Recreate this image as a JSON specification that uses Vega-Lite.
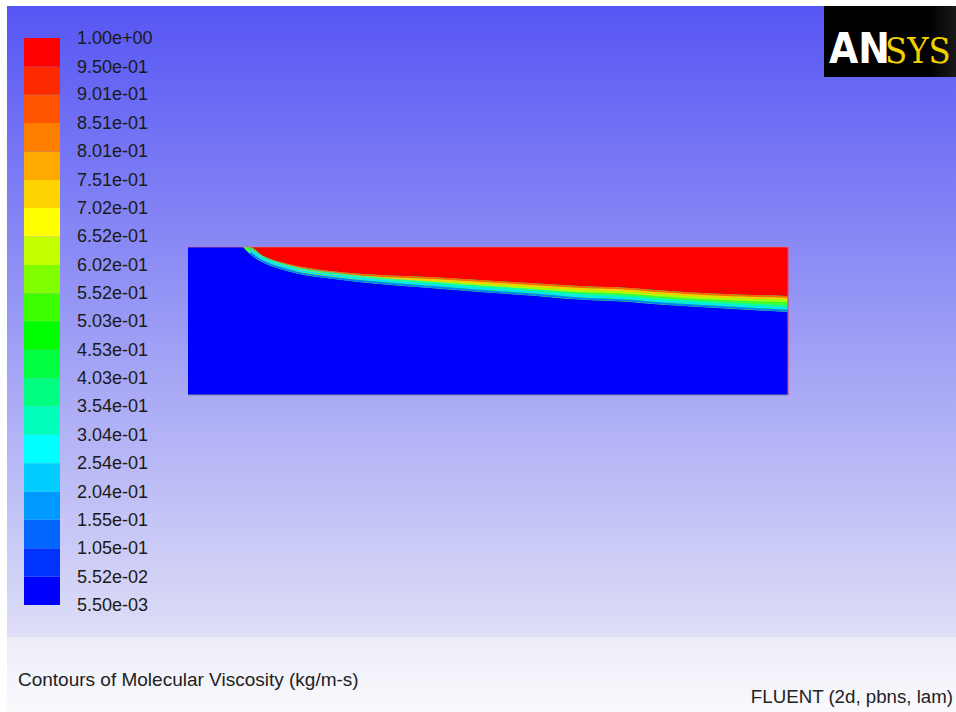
{
  "$schema": "https://vega.github.io/schema/vega-lite/v6.json",
  "width": 956,
  "height": 712,
  "autosize": {"type": "fit", "contains": "padding"},
  "padding": 0,
  "background": "#ffffff",
  "config": {"view": {"stroke": null}, "axis": {"disable": true}, "legend": {"disable": true}},
  "resolve": {"scale": {"x": "independent", "y": "independent", "color": "independent"}},
  "layer": [
    {
      "data": {"values": [{}]},
      "layer": [
        {
          "mark": {"type": "rect", "color": {"gradient": "linear", "x1": 0, "y1": 0, "x2": 0, "y2": 1, "stops": [{"offset": 0, "color": "#5656f4"}, {"offset": 1, "color": "#dedef7"}]}},
          "encoding": {
            "x": {"datum": 0.0073, "type": "quantitative", "scale": {"domain": [0, 1], "range": [0, 956]}},
            "x2": {"datum": 1},
            "y": {"datum": 0.0084, "type": "quantitative", "scale": {"domain": [0, 1], "range": [0, 712]}},
            "y2": {"datum": 0.8947}
          }
        },
        {
          "mark": {"type": "rect", "color": {"gradient": "linear", "x1": 0, "y1": 0, "x2": 0, "y2": 1, "stops": [{"offset": 0, "color": "#ececf8"}, {"offset": 1, "color": "#f9f9fd"}]}},
          "encoding": {
            "x": {"datum": 0.0073, "type": "quantitative", "scale": {"domain": [0, 1], "range": [0, 956]}},
            "x2": {"datum": 1},
            "y": {"datum": 0.8947, "type": "quantitative", "scale": {"domain": [0, 1], "range": [0, 712]}},
            "y2": {"datum": 1}
          }
        },
        {
          "mark": {"type": "rect", "color": {"gradient": "linear", "x1": 0, "y1": 0, "x2": 1, "y2": 0, "stops": [{"offset": 0, "color": "#000000"}, {"offset": 0.8, "color": "#000000"}, {"offset": 1, "color": "#1a1a1a"}]}},
          "encoding": {
            "x": {"datum": 0.8619, "type": "quantitative", "scale": {"domain": [0, 1], "range": [0, 956]}},
            "x2": {"datum": 1},
            "y": {"datum": 0.0084, "type": "quantitative", "scale": {"domain": [0, 1], "range": [0, 712]}},
            "y2": {"datum": 0.1082}
          }
        },
        {
          "data": {"values": [{"t": "AN"}]},
          "mark": {"type": "text", "align": "left", "baseline": "alphabetic", "font": "DejaVu Sans Condensed, Liberation Sans Narrow, sans-serif", "fontWeight": "bold", "fontSize": 42, "color": "#ffffff"},
          "encoding": {
            "x": {"datum": 0.8672, "type": "quantitative", "scale": {"domain": [0, 1], "range": [0, 956]}},
            "y": {"datum": 0.0885, "type": "quantitative", "scale": {"domain": [0, 1], "range": [0, 712]}},
            "text": {"field": "t"}
          }
        },
        {
          "data": {"values": [{"t": "SYS"}]},
          "mark": {"type": "text", "align": "left", "baseline": "alphabetic", "font": "DejaVu Serif Condensed, Liberation Serif, serif", "fontSize": 36, "color": "#f0d000"},
          "encoding": {
            "x": {"datum": 0.9257, "type": "quantitative", "scale": {"domain": [0, 1], "range": [0, 956]}},
            "y": {"datum": 0.0885, "type": "quantitative", "scale": {"domain": [0, 1], "range": [0, 712]}},
            "text": {"field": "t"}
          }
        },
        {
          "data": {"values": [{"t": "Contours of Molecular Viscosity (kg/m-s)"}]},
          "mark": {"type": "text", "align": "left", "baseline": "middle", "font": "Liberation Sans", "fontSize": 19, "color": "#222222"},
          "encoding": {
            "x": {"datum": 0.0188, "type": "quantitative", "scale": {"domain": [0, 1], "range": [0, 956]}},
            "y": {"datum": 0.955, "type": "quantitative", "scale": {"domain": [0, 1], "range": [0, 712]}},
            "text": {"field": "t"}
          }
        },
        {
          "data": {"values": [{"t": "FLUENT (2d, pbns, lam)"}]},
          "mark": {"type": "text", "align": "right", "baseline": "middle", "font": "Liberation Sans", "fontSize": 18.7, "color": "#222222"},
          "encoding": {
            "x": {"datum": 0.9969, "type": "quantitative", "scale": {"domain": [0, 1], "range": [0, 956]}},
            "y": {"datum": 0.979, "type": "quantitative", "scale": {"domain": [0, 1], "range": [0, 712]}},
            "text": {"field": "t"}
          }
        }
      ]
    },
    {
      "layer": [
        {
          "data": {"values": [
            {"lo": 0.0055, "hi": 0.0552}, {"lo": 0.0552, "hi": 0.105}, {"lo": 0.105, "hi": 0.155}, {"lo": 0.155, "hi": 0.204},
            {"lo": 0.204, "hi": 0.254}, {"lo": 0.254, "hi": 0.304}, {"lo": 0.304, "hi": 0.354}, {"lo": 0.354, "hi": 0.403},
            {"lo": 0.403, "hi": 0.453}, {"lo": 0.453, "hi": 0.503}, {"lo": 0.503, "hi": 0.552}, {"lo": 0.552, "hi": 0.602},
            {"lo": 0.602, "hi": 0.652}, {"lo": 0.652, "hi": 0.702}, {"lo": 0.702, "hi": 0.751}, {"lo": 0.751, "hi": 0.801},
            {"lo": 0.801, "hi": 0.851}, {"lo": 0.851, "hi": 0.901}, {"lo": 0.901, "hi": 0.95}, {"lo": 0.95, "hi": 1.0}
          ]},
          "mark": {"type": "rect"},
          "encoding": {
            "x": {"datum": 0, "type": "quantitative", "scale": {"domain": [0, 1], "range": [24, 60]}},
            "x2": {"datum": 1},
            "y": {"field": "lo", "type": "quantitative", "scale": {"domain": [0.0055, 1.0], "range": [605, 38]}},
            "y2": {"field": "hi"},
            "color": {"field": "lo", "type": "ordinal", "legend": null, "scale": {
              "domain": [0.0055, 0.0552, 0.105, 0.155, 0.204, 0.254, 0.304, 0.354, 0.403, 0.453, 0.503, 0.552, 0.602, 0.652, 0.702, 0.751, 0.801, 0.851, 0.901, 0.95],
              "range": ["#0000ff", "#0033ff", "#0066ff", "#0099ff", "#00ccff", "#00ffff", "#00ffbb", "#00ff80", "#00ff40", "#00ff00", "#3cff00", "#80ff00", "#c4ff00", "#ffff00", "#ffd400", "#ffaa00", "#ff7f00", "#ff5500", "#ff2a00", "#ff0000"]
            }}
          }
        },
        {
          "data": {"values": [
            {"v": 1.0, "label": "1.00e+00"}, {"v": 0.95, "label": "9.50e-01"}, {"v": 0.901, "label": "9.01e-01"},
            {"v": 0.851, "label": "8.51e-01"}, {"v": 0.801, "label": "8.01e-01"}, {"v": 0.751, "label": "7.51e-01"},
            {"v": 0.702, "label": "7.02e-01"}, {"v": 0.652, "label": "6.52e-01"}, {"v": 0.602, "label": "6.02e-01"},
            {"v": 0.552, "label": "5.52e-01"}, {"v": 0.503, "label": "5.03e-01"}, {"v": 0.453, "label": "4.53e-01"},
            {"v": 0.403, "label": "4.03e-01"}, {"v": 0.354, "label": "3.54e-01"}, {"v": 0.304, "label": "3.04e-01"},
            {"v": 0.254, "label": "2.54e-01"}, {"v": 0.204, "label": "2.04e-01"}, {"v": 0.155, "label": "1.55e-01"},
            {"v": 0.105, "label": "1.05e-01"}, {"v": 0.0552, "label": "5.52e-02"}, {"v": 0.0055, "label": "5.50e-03"}
          ]},
          "mark": {"type": "text", "align": "left", "baseline": "middle", "dx": 17, "dy": 1, "font": "Liberation Sans", "fontSize": 18, "color": "#1a1a1a"},
          "encoding": {
            "x": {"datum": 1, "type": "quantitative", "scale": {"domain": [0, 1], "range": [24, 60]}},
            "y": {"field": "v", "type": "quantitative", "scale": {"domain": [0.0055, 1.0], "range": [605, 38]}},
            "text": {"field": "label"}
          }
        }
      ]
    },
    {
      "data": {"values": [
        {"x": 0.275, "r": 0.74, "b": 0.74},
        {"x": 0.31, "r": 0.74, "b": 0.705},
        {"x": 0.375, "r": 0.695, "b": 0.662},
        {"x": 0.46, "r": 0.665, "b": 0.63},
        {"x": 0.545, "r": 0.645, "b": 0.607},
        {"x": 0.71, "r": 0.62, "b": 0.582},
        {"x": 0.875, "r": 0.605, "b": 0.563},
        {"x": 1.01, "r": 0.598, "b": 0.55},
        {"x": 1.21, "r": 0.59, "b": 0.535},
        {"x": 1.46, "r": 0.575, "b": 0.515},
        {"x": 1.71, "r": 0.56, "b": 0.498},
        {"x": 1.96, "r": 0.545, "b": 0.477},
        {"x": 2.21, "r": 0.535, "b": 0.465},
        {"x": 2.375, "r": 0.522, "b": 0.451},
        {"x": 2.625, "r": 0.507, "b": 0.436},
        {"x": 3.0, "r": 0.495, "b": 0.415}
      ]},
      "layer": [
        {
          "data": {"values": [{}]},
          "mark": {"type": "rect", "color": "#0000ff"},
          "encoding": {
            "x": {"datum": 0, "type": "quantitative", "scale": {"domain": [0, 3], "range": [188, 788]}},
            "x2": {"datum": 3},
            "y": {"datum": 0, "type": "quantitative", "scale": {"domain": [0, 0.74], "range": [395, 247]}},
            "y2": {"datum": 0.74}
          }
        },
        {
          "mark": {"type": "area", "color": "#ff0000", "interpolate": "monotone"},
          "encoding": {
            "x": {"field": "x", "type": "quantitative", "scale": {"domain": [0, 3], "range": [188, 788]}},
            "y": {"field": "r", "type": "quantitative", "stack": null, "scale": {"domain": [0, 0.74], "range": [395, 247]}},
            "y2": {"datum": 0.74}
          }
        },
        {
          "mark": {"type": "area", "color": "#40ff30", "interpolate": "monotone"},
          "encoding": {
            "x": {"field": "x", "type": "quantitative", "scale": {"domain": [0, 3], "range": [188, 788]}},
            "y": {"field": "r", "type": "quantitative", "stack": null, "scale": {"domain": [0, 0.74], "range": [395, 247]}},
            "y2": {"field": "b"}
          }
        },
        {
          "transform": [{"filter": "datum.x > 0.29"}],
          "mark": {"type": "line", "color": "#ff6a00", "strokeWidth": 2, "yOffset": 1, "interpolate": "monotone"},
          "encoding": {
            "x": {"field": "x", "type": "quantitative", "scale": {"domain": [0, 3], "range": [188, 788]}},
            "y": {"field": "r", "type": "quantitative", "scale": {"domain": [0, 0.74], "range": [395, 247]}}
          }
        },
        {
          "transform": [{"filter": "datum.x > 0.29"}],
          "mark": {"type": "line", "color": "#ffd000", "strokeWidth": 2, "yOffset": 3, "interpolate": "monotone"},
          "encoding": {
            "x": {"field": "x", "type": "quantitative", "scale": {"domain": [0, 3], "range": [188, 788]}},
            "y": {"field": "r", "type": "quantitative", "scale": {"domain": [0, 0.74], "range": [395, 247]}}
          }
        },
        {
          "transform": [{"filter": "datum.x > 0.29"}],
          "mark": {"type": "line", "color": "#c8ff00", "strokeWidth": 2, "yOffset": 5, "interpolate": "monotone", "opacity": 0.8},
          "encoding": {
            "x": {"field": "x", "type": "quantitative", "scale": {"domain": [0, 3], "range": [188, 788]}},
            "y": {"field": "r", "type": "quantitative", "scale": {"domain": [0, 0.74], "range": [395, 247]}}
          }
        },
        {
          "transform": [{"filter": "datum.x > 0.3"}],
          "mark": {"type": "line", "color": "#00ffc0", "strokeWidth": 2, "yOffset": -5.5, "interpolate": "monotone", "opacity": 0.8},
          "encoding": {
            "x": {"field": "x", "type": "quantitative", "scale": {"domain": [0, 3], "range": [188, 788]}},
            "y": {"field": "b", "type": "quantitative", "scale": {"domain": [0, 0.74], "range": [395, 247]}}
          }
        },
        {
          "transform": [{"filter": "datum.x > 0.3"}],
          "mark": {"type": "line", "color": "#00e8ff", "strokeWidth": 2, "yOffset": -3.5, "interpolate": "monotone"},
          "encoding": {
            "x": {"field": "x", "type": "quantitative", "scale": {"domain": [0, 3], "range": [188, 788]}},
            "y": {"field": "b", "type": "quantitative", "scale": {"domain": [0, 0.74], "range": [395, 247]}}
          }
        },
        {
          "transform": [{"filter": "datum.x > 0.3"}],
          "mark": {"type": "line", "color": "#0080ff", "strokeWidth": 2, "yOffset": -1.2, "interpolate": "monotone"},
          "encoding": {
            "x": {"field": "x", "type": "quantitative", "scale": {"domain": [0, 3], "range": [188, 788]}},
            "y": {"field": "b", "type": "quantitative", "scale": {"domain": [0, 0.74], "range": [395, 247]}}
          }
        },
        {
          "data": {"values": [{}]},
          "mark": {"type": "rule", "color": "#e0708c", "strokeWidth": 1, "opacity": 0.7},
          "encoding": {
            "x": {"datum": 0, "type": "quantitative", "scale": {"domain": [0, 3], "range": [188, 788]}},
            "x2": {"datum": 3},
            "y": {"datum": 0.74, "type": "quantitative", "scale": {"domain": [0, 0.74], "range": [395, 247]}}
          }
        },
        {
          "data": {"values": [{}]},
          "mark": {"type": "rule", "color": "#d04878", "strokeWidth": 1.2},
          "encoding": {
            "x": {"datum": 3, "type": "quantitative", "scale": {"domain": [0, 3], "range": [188, 788]}},
            "y": {"datum": 0, "type": "quantitative", "scale": {"domain": [0, 0.74], "range": [395, 247]}},
            "y2": {"datum": 0.74}
          }
        },
        {
          "data": {"values": [{}]},
          "mark": {"type": "rule", "color": "#8a8aa0", "strokeWidth": 1.2},
          "encoding": {
            "x": {"datum": 0, "type": "quantitative", "scale": {"domain": [0, 3], "range": [188, 788]}},
            "x2": {"datum": 3},
            "y": {"datum": 0, "type": "quantitative", "scale": {"domain": [0, 0.74], "range": [395, 247]}}
          }
        }
      ]
    }
  ]
}
